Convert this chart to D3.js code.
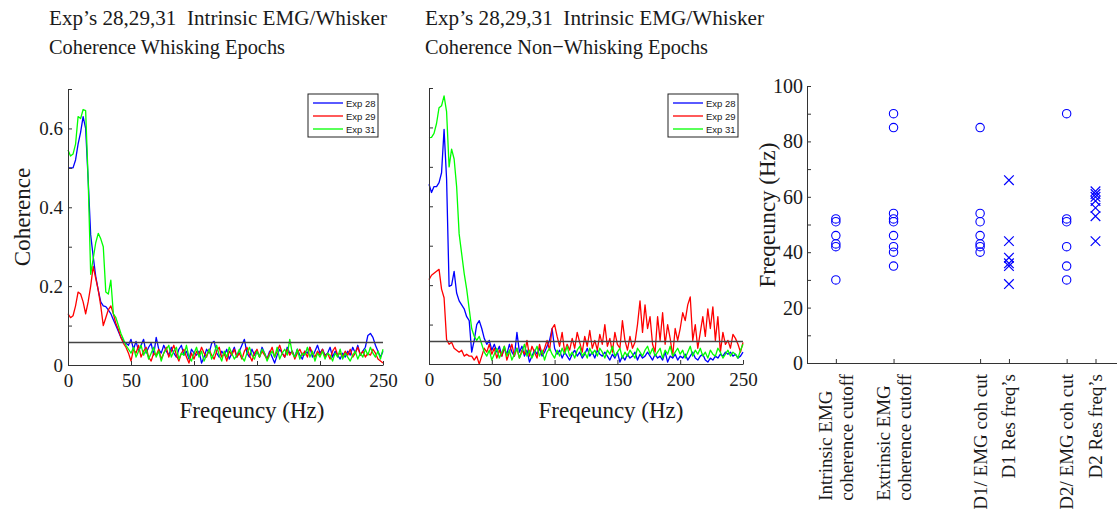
<!DOCTYPE html>
<html>
<head>
<meta charset="utf-8">
<script src="https://cdn.jsdelivr.net/npm/d3@7"></script>
<style>
  html, body { margin: 0; padding: 0; background: #fff; }
  svg { display: block; }
  text { font-family: "Liberation Serif", "Times New Roman", serif; fill: #1a1a1a; white-space: pre; }
  .legend text { font-family: "Liberation Sans", Arial, sans-serif; }
</style>
</head>
<body>
<svg id="chart" width="1117" height="509"></svg>
<script>
// Frequency grid of the coherence spectra (Hz)
const freqHz = d3.range(0, 251, 2);

// Whisking epochs: coherence per experiment
const whiskExp28 = [
  0.50,0.50,0.50,0.52,0.56,0.59,0.63,0.60,0.47,0.33,
  0.275,0.225,0.19,0.16,0.15,0.148,0.14,0.13,0.115,0.10,
  0.085,0.07,0.06,0.055,0.05,0.065,0.04,0.06,0.035,0.05,
  0.065,0.03,0.045,0.055,0.025,0.07,0.04,0.03,0.05,0.035,
  0.025,0.045,0.03,0.02,0.04,0.05,0.025,0.035,0.015,0.04,
  0.03,0.025,0.035,0.005,0.02,0.04,0.03,0.055,0.06,0.03,
  0.02,0.035,0.025,0.04,0.015,0.03,0.045,0.02,0.035,0.05,
  0.065,0.03,0.02,0.04,0.025,0.035,0.02,0.045,0.03,0.015,
  0.035,0.02,0.005,0.025,0.04,0.03,0.02,0.045,0.03,0.035,
  0.02,0.04,0.025,0.015,0.035,0.03,0.045,0.02,0.035,0.05,
  0.03,0.04,0.025,0.03,0.045,0.02,0.035,0.025,0.015,0.03,
  0.02,0.035,0.025,0.045,0.03,0.05,0.025,0.035,0.045,0.075,
  0.08,0.07,0.05,0.035,0.02,0.035
];
const whiskExp29 = [
  0.13,0.12,0.125,0.15,0.185,0.18,0.16,0.13,0.16,0.20,
  0.25,0.22,0.19,0.15,0.10,0.12,0.14,0.15,0.13,0.105,
  0.09,0.07,0.055,0.045,0.03,0.01,0.04,0.03,0.05,0.02,
  0.035,0.045,0.02,0.01,0.03,0.025,0.04,0.015,0.03,0.045,
  0.02,0.035,0.05,0.025,0.01,0.03,0.04,0.02,0.005,0.03,
  0.015,0.035,0.025,0.045,0.03,0.02,0.04,0.025,0.015,0.035,
  0.045,0.02,0.03,0.01,0.035,0.025,0.04,0.02,0.03,0.015,
  0.035,0.045,0.025,0.01,0.03,0.04,0.02,0.035,0.025,0.015,
  0.03,0.045,0.02,0.035,0.05,0.03,0.02,0.04,0.025,0.035,
  0.015,0.03,0.04,0.025,0.035,0.02,0.045,0.03,0.02,0.035,
  0.025,0.04,0.02,0.03,0.015,0.035,0.045,0.025,0.03,0.02,
  0.035,0.025,0.04,0.02,0.03,0.045,0.025,0.035,0.02,0.03,
  0.025,0.04,0.03,0.015,0.01,0.005
];
const whiskExp31 = [
  0.545,0.53,0.535,0.56,0.63,0.625,0.648,0.645,0.47,0.23,
  0.27,0.31,0.334,0.32,0.30,0.185,0.18,0.215,0.13,0.12,
  0.10,0.08,0.065,0.05,0.04,0.03,0.045,0.02,0.035,0.05,
  0.025,0.04,0.015,0.03,0.045,0.02,0.035,0.01,0.03,0.04,
  0.05,0.02,0.035,0.045,0.015,0.03,0.025,0.05,0.02,0.01,
  0.03,0.045,0.02,0.035,0.01,0.025,0.04,0.015,0.03,0.05,
  0.025,0.01,0.035,0.02,0.045,0.03,0.015,0.025,0.04,0.02,
  0.01,0.03,0.045,0.025,0.015,0.035,0.02,0.04,0.03,0.01,
  0.025,0.035,0.02,0.045,0.015,0.03,0.04,0.025,0.065,0.03,
  0.02,0.04,0.015,0.03,0.025,0.045,0.02,0.035,0.01,0.03,
  0.02,0.035,0.015,0.03,0.025,0.01,0.03,0.02,0.04,0.015,
  0.03,0.02,0.01,0.025,0.035,0.015,0.03,0.02,0.04,0.025,
  0.045,0.03,0.02,0.035,0.015,0.04
];

// Non-whisking epochs: coherence per experiment
const restExp28 = [
  0.456,0.435,0.45,0.45,0.46,0.485,0.595,0.47,0.197,0.20,
  0.235,0.18,0.16,0.15,0.14,0.12,0.11,0.03,0.06,0.10,
  0.11,0.09,0.065,0.05,0.06,0.035,0.05,0.03,0.045,0.02,
  0.04,0.025,0.05,0.03,0.02,0.08,0.03,0.045,0.02,0.035,
  0.005,0.02,0.035,0.025,0.04,0.02,0.03,0.045,0.06,0.09,
  0.04,0.025,0.035,0.015,0.03,0.02,0.01,0.025,0.035,0.02,
  0.03,0.015,0.025,0.04,0.02,0.03,0.015,0.035,0.025,0.02,
  0.03,0.02,0.01,0.025,0.015,0.03,0.005,0.02,0.01,0.025,
  0.015,0.02,0.03,0.01,0.025,0.015,0.02,0.03,0.02,0.01,
  0.025,0.015,0.02,0.01,0.03,0.005,0.02,0.015,0.025,0.01,
  0.02,0.015,0.025,0.01,0.02,0.03,0.015,0.01,0.02,0.025,
  0.01,0.005,0.015,0.01,0.02,0.015,0.025,0.02,0.03,0.025,
  0.03,0.02,0.025,0.015,0.02,0.03
];
const restExp29 = [
  0.214,0.225,0.23,0.235,0.24,0.19,0.168,0.062,0.05,0.055,
  0.04,0.035,0.03,0.035,0.02,0.025,0.02,0.02,0.01,0.02,
  0.0,0.02,0.04,0.03,0.05,0.025,0.04,0.015,0.035,0.02,
  0.045,0.01,0.03,0.05,0.02,0.04,0.015,0.035,0.025,0.06,
  0.02,0.045,0.03,0.015,0.05,0.025,0.04,0.06,0.035,0.09,
  0.10,0.07,0.045,0.08,0.03,0.05,0.035,0.065,0.04,0.08,
  0.055,0.03,0.07,0.045,0.085,0.04,0.06,0.035,0.075,0.05,
  0.10,0.045,0.065,0.03,0.08,0.05,0.04,0.11,0.06,0.035,
  0.07,0.04,0.055,0.10,0.16,0.08,0.15,0.09,0.12,0.05,
  0.03,0.12,0.06,0.13,0.05,0.10,0.065,0.02,0.09,0.06,
  0.09,0.13,0.11,0.15,0.17,0.06,0.10,0.04,0.08,0.12,
  0.07,0.14,0.09,0.145,0.06,0.12,0.03,0.08,0.05,0.06,
  0.04,0.075,0.065,0.05,0.03,0.055
];
const restExp31 = [
  0.574,0.575,0.585,0.61,0.65,0.655,0.68,0.64,0.50,0.545,
  0.52,0.45,0.33,0.28,0.23,0.19,0.14,0.09,0.07,0.06,
  0.07,0.05,0.03,0.02,0.035,0.01,0.025,0.04,0.015,0.03,
  0.045,0.02,0.035,0.01,0.025,0.04,0.015,0.03,0.05,0.02,
  0.035,0.015,0.03,0.045,0.02,0.035,0.01,0.03,0.04,0.025,
  0.015,0.035,0.02,0.04,0.025,0.045,0.02,0.03,0.015,0.035,
  0.045,0.02,0.03,0.015,0.04,0.025,0.035,0.02,0.04,0.03,
  0.015,0.035,0.025,0.045,0.02,0.03,0.04,0.015,0.03,0.02,
  0.035,0.025,0.015,0.04,0.03,0.02,0.035,0.045,0.025,0.04,
  0.02,0.03,0.04,0.015,0.035,0.025,0.045,0.02,0.03,0.04,
  0.025,0.035,0.015,0.03,0.045,0.02,0.035,0.025,0.04,0.02,
  0.03,0.015,0.035,0.025,0.02,0.04,0.03,0.015,0.025,0.035,
  0.02,0.03,0.025,0.015,0.035,0.05
];

const seriesNames = ["Exp 28", "Exp 29", "Exp 31"];
const seriesColors = ["#0000ff", "#ff0000", "#00ff00"];
const cutoffLevel = 0.057;
const coherenceTicks = [0, 0.1, 0.2, 0.3, 0.4, 0.5, 0.6, 0.7];
const coherenceLabels = [0, 0.2, 0.4, 0.6];
const freqTicks = [0, 50, 100, 150, 200, 250];

// Cutoff / resonance frequencies per measure (Hz)
const categoryLabels = [
  ["Intrinsic EMG", "coherence cutoff"],
  ["Extrinsic EMG", "coherence cutoff"],
  ["D1/ EMG coh cut"],
  ["D1 Res freq\u2019s"],
  ["D2/ EMG coh cut"],
  ["D2 Res freq\u2019s"]
];
const categoryPos = [1, 2, 3.5, 4, 5, 5.5];
const categoryMarker = ["circle", "circle", "circle", "cross", "circle", "cross"];
const intrinsicCutoff = [52, 51, 46, 43, 42, 30];
const extrinsicCutoff = [90, 85, 54, 52, 51, 46, 42, 40, 35];
const d1CohCut = [85, 54, 51, 46, 43, 42, 40];
const d1ResFreq = [66, 44, 38, 36, 35, 28.5];
const d2CohCut = [90, 52, 51, 42, 35, 30];
const d2ResFreq = [62, 61, 60, 58.5, 56, 53, 44];
const freqTicksRight = [0, 10, 20, 30, 40, 50, 60, 70, 80, 90, 100];
const freqLabelsRight = [0, 20, 40, 60, 80, 100];

const svg = d3.select("#chart");
const axisColor = "#333";

function styleAxis(g, fontSize) {
  g.select(".domain").attr("stroke", axisColor).attr("stroke-width", 1);
  g.selectAll(".tick line").attr("stroke", axisColor).attr("stroke-width", 1);
  g.selectAll(".tick text")
    .attr("fill", "#1a1a1a")
    .style("font-family", "'Liberation Serif', 'Times New Roman', serif")
    .style("font-size", fontSize + "px");
}

function coherencePanel(opts) {
  const x = d3.scaleLinear().domain([0, 250]).range([opts.x0, opts.x1]);
  const y = d3.scaleLinear().domain([0, 0.7]).range([opts.yBottom, opts.yTop]);
  const g = svg.append("g");

  // spectra
  const line = d3.line().x((d, i) => x(freqHz[i])).y(d => y(d));
  opts.series.forEach((s, k) => {
    g.append("path")
      .datum(s)
      .attr("fill", "none")
      .attr("stroke", seriesColors[k])
      .attr("stroke-width", 1.3)
      .attr("stroke-linejoin", "round")
      .attr("d", line);
  });

  // significance cutoff
  g.append("line")
    .attr("x1", x(0)).attr("x2", x(250))
    .attr("y1", y(cutoffLevel)).attr("y2", y(cutoffLevel))
    .attr("stroke", "#444").attr("stroke-width", 1.4);

  // axes
  const yAxis = d3.axisLeft(y)
    .tickValues(coherenceTicks)
    .tickSizeInner(-4).tickSizeOuter(0).tickPadding(5)
    .tickFormat(d => (opts.showYLabels && coherenceLabels.some(v => Math.abs(v - d) < 1e-9))
      ? (d === 0 ? "0" : d.toFixed(1)) : "");
  g.append("g").attr("transform", `translate(${opts.x0},0)`).call(yAxis).call(a => styleAxis(a, 19));

  const xAxis = d3.axisBottom(x)
    .tickValues(freqTicks)
    .tickSizeInner(-4).tickSizeOuter(0).tickPadding(9)
    .tickFormat(d3.format("d"));
  g.append("g").attr("transform", `translate(0,${opts.yBottom})`).call(xAxis).call(a => styleAxis(a, 19));

  // x label
  g.append("text")
    .attr("x", opts.xLabelX).attr("y", 418)
    .attr("text-anchor", "middle")
    .style("font-size", "23px")
    .text("Freqeuncy (Hz)");

  // title
  opts.title.forEach((t, i) => {
    g.append("text")
      .attr("x", opts.titleX).attr("y", 25 + i * 29)
      .attr("textLength", opts.titleWidths[i])
      .attr("lengthAdjust", "spacingAndGlyphs")
      .style("font-size", "22px")
      .text(t);
  });

  // legend
  const lg = g.append("g").attr("class", "legend")
    .attr("transform", `translate(${opts.legendX},94)`);
  lg.append("rect").attr("x", 0).attr("y", 0).attr("width", 70).attr("height", 43)
    .attr("fill", "#fff").attr("stroke", "#222").attr("stroke-width", 1);
  seriesNames.forEach((n, k) => {
    const yy = 9 + k * 13;
    lg.append("line").attr("x1", 5).attr("x2", 35).attr("y1", yy).attr("y2", yy)
      .attr("stroke", seriesColors[k]).attr("stroke-width", 1.3);
    lg.append("text").attr("x", 38).attr("y", yy).attr("dominant-baseline", "central")
      .style("font-size", "9.5px").text(n);
  });
  return { x, y };
}

coherencePanel({
  x0: 68, x1: 383, yTop: 89, yBottom: 365,
  series: [whiskExp28, whiskExp29, whiskExp31],
  showYLabels: true, xLabelX: 252, legendX: 308,
  titleX: 49,
  title: ["Exp\u2019s 28,29,31  Intrinsic EMG/Whisker", "Coherence Whisking Epochs"],
  titleWidths: [338, 236]
});

// y label of first panel
svg.append("text")
  .attr("transform", "translate(30,217) rotate(-90)")
  .attr("text-anchor", "middle")
  .style("font-size", "23px")
  .text("Coherence");

coherencePanel({
  x0: 429, x1: 743, yTop: 88, yBottom: 364,
  series: [restExp28, restExp29, restExp31],
  showYLabels: false, xLabelX: 611, legendX: 668,
  titleX: 425,
  title: ["Exp\u2019s 28,29,31  Intrinsic EMG/Whisker", "Coherence Non\u2212Whisking Epochs"],
  titleWidths: [339, 283]
});

// Right panel: cutoff and resonance frequencies
(function () {
  const g = svg.append("g");
  const unit = 57.7;
  const xC = d3.scaleLinear().domain([0.5, 6]).range([807, 807 + 5.5 * unit]);
  const yF = d3.scaleLinear().domain([0, 100]).range([363, 86]);

  const yAxis = d3.axisLeft(yF)
    .tickValues(freqTicksRight)
    .tickSizeInner(-4).tickSizeOuter(0).tickPadding(4)
    .tickFormat(d => freqLabelsRight.includes(d) ? String(d) : "");
  g.append("g").attr("transform", "translate(807,0)").call(yAxis).call(a => styleAxis(a, 20));

  const xAxis = d3.axisBottom(xC)
    .tickValues(categoryPos)
    .tickSizeInner(-4).tickSizeOuter(0)
    .tickFormat(() => "");
  g.append("g").attr("transform", "translate(0,363)").call(xAxis).call(a => styleAxis(a, 19));

  const groups = [intrinsicCutoff, extrinsicCutoff, d1CohCut, d1ResFreq, d2CohCut, d2ResFreq];
  groups.forEach((vals, ci) => {
    const cx = xC(categoryPos[ci]);
    vals.forEach(v => {
      const cy = yF(v);
      if (categoryMarker[ci] === "circle") {
        g.append("circle").attr("cx", cx).attr("cy", cy).attr("r", 4.2)
          .attr("fill", "none").attr("stroke", "#0000ff").attr("stroke-width", 1.1);
      } else {
        const s = 4.8;
        g.append("path")
          .attr("d", `M${cx - s},${cy - s}L${cx + s},${cy + s}M${cx - s},${cy + s}L${cx + s},${cy - s}`)
          .attr("stroke", "#0000ff").attr("stroke-width", 1.2).attr("fill", "none");
      }
    });
  });

  // rotated category labels, block aligned to the top just under the axis
  categoryLabels.forEach((lines, ci) => {
    const lab = g.append("g")
      .attr("transform", `translate(${xC(categoryPos[ci])},374) rotate(-90)`);
    const n = lines.length;
    const texts = lines.map((t, i) => lab.append("text")
      .attr("x", 0)
      .attr("y", (i - (n - 1) / 2) * 21)
      .attr("dominant-baseline", "central")
      .attr("text-anchor", "end")
      .style("font-size", "19px")
      .text(t));
    if (n > 1) {
      const L = d3.max(texts, t => t.node().getComputedTextLength());
      texts.forEach(t => t.attr("text-anchor", "start").attr("x", -L));
    }
  });

  svg.append("text")
    .attr("transform", "translate(775,215) rotate(-90)")
    .attr("text-anchor", "middle")
    .style("font-size", "23px")
    .text("Freqeuncy (Hz)");
})();
</script>
</body>
</html>
